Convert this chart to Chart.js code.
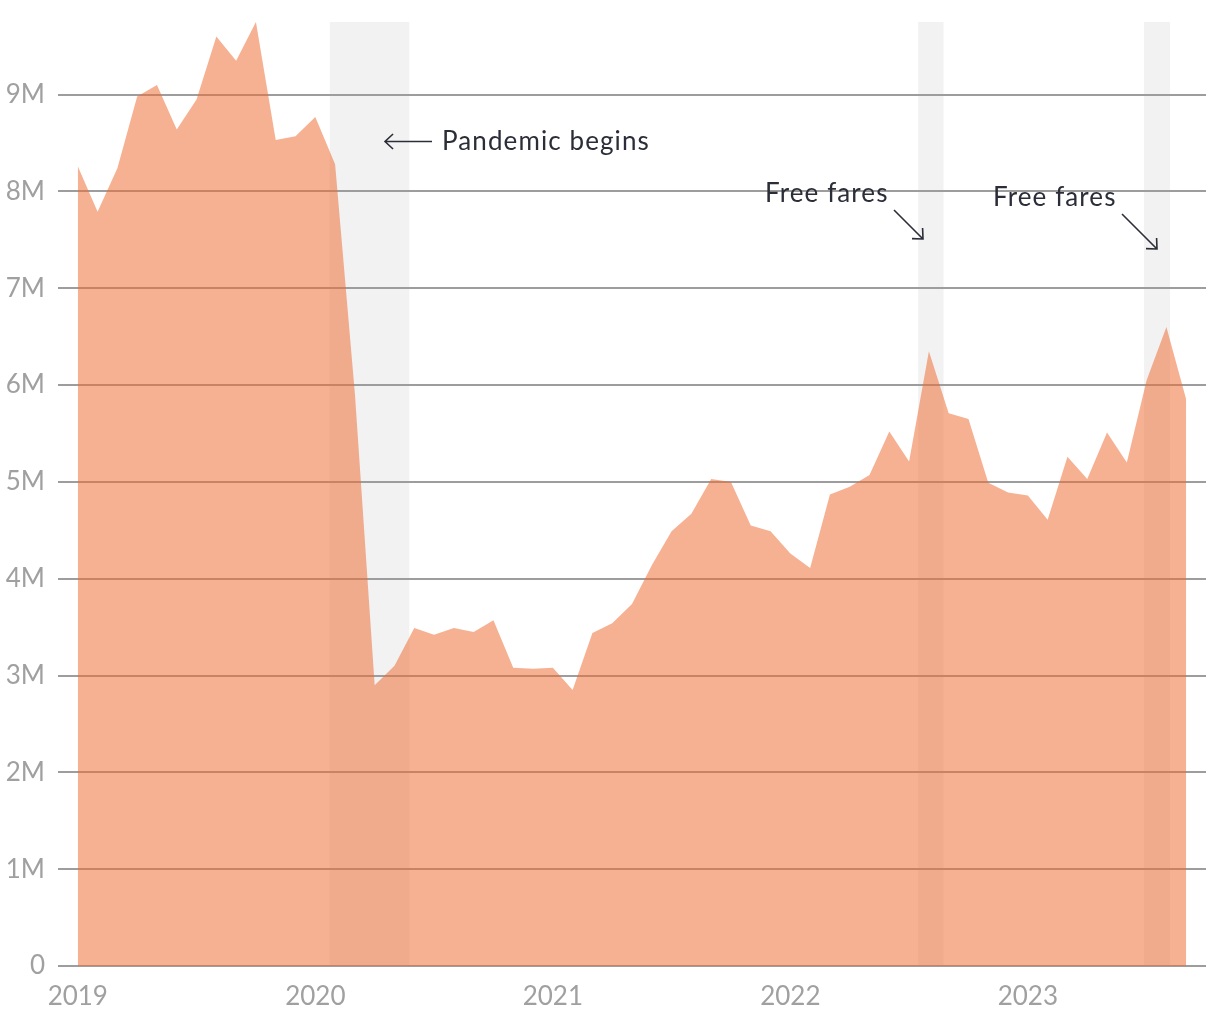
<!DOCTYPE html>
<html>
<head>
<meta charset="utf-8">
<script src="https://cdn.jsdelivr.net/npm/chart.js@4/dist/chart.umd.min.js"></script>
<style>
  html, body { margin: 0; padding: 0; background: #ffffff; }
  #wrap { width: 1220px; height: 1020px; position: relative; }
</style>
</head>
<body>
<div id="wrap"><canvas id="c" width="1220" height="1020"></canvas></div>
<script>
// Monthly ridership, Jan 2019 – Sep 2023 (millions)
const months = [
  'Jan 2019','Feb 2019','Mar 2019','Apr 2019','May 2019','Jun 2019','Jul 2019','Aug 2019','Sep 2019','Oct 2019','Nov 2019','Dec 2019',
  'Jan 2020','Feb 2020','Mar 2020','Apr 2020','May 2020','Jun 2020','Jul 2020','Aug 2020','Sep 2020','Oct 2020','Nov 2020','Dec 2020',
  'Jan 2021','Feb 2021','Mar 2021','Apr 2021','May 2021','Jun 2021','Jul 2021','Aug 2021','Sep 2021','Oct 2021','Nov 2021','Dec 2021',
  'Jan 2022','Feb 2022','Mar 2022','Apr 2022','May 2022','Jun 2022','Jul 2022','Aug 2022','Sep 2022','Oct 2022','Nov 2022','Dec 2022',
  'Jan 2023','Feb 2023','Mar 2023','Apr 2023','May 2023','Jun 2023','Jul 2023','Aug 2023','Sep 2023'
];
const riders = [
  8.26, 7.79, 8.24, 8.98, 9.10, 8.64, 8.95, 9.60, 9.35, 9.75, 8.53, 8.57,
  8.77, 8.28, 5.91, 2.90, 3.10, 3.49, 3.42, 3.49, 3.45, 3.57, 3.08, 3.07,
  3.08, 2.85, 3.44, 3.54, 3.74, 4.14, 4.49, 4.67, 5.03, 5.00, 4.55, 4.49,
  4.26, 4.11, 4.87, 4.95, 5.07, 5.52, 5.21, 6.35, 5.71, 5.65, 4.99, 4.89,
  4.86, 4.61, 5.26, 5.03, 5.51, 5.20, 6.05, 6.60, 5.85
];
const yearLabels = ['2019', '2020', '2021', '2022', '2023'];
const yearStartIndex = [0, 12, 24, 36, 48];
const yTicks = [0, 1, 2, 3, 4, 5, 6, 7, 8, 9];
// shaded periods, in month-index units (start, end)
const bandStarts = [12.73, 42.46, 53.87];
const bandEnds   = [16.75, 43.74, 55.18];
const annotations = [
  { text: 'Pandemic begins', band: 0 },
  { text: 'Free fares', band: 1 },
  { text: 'Free fares', band: 2 }
];

const FONT = 'Lato, "Open Sans", sans-serif';
const points = riders.map((v, i) => ({ x: i, y: v }));

const bandPlugin = {
  id: 'bands',
  beforeDraw(chart) {
    const { ctx, chartArea, scales } = chart;
    ctx.save();
    ctx.fillStyle = '#f2f2f2';
    for (let i = 0; i < bandStarts.length; i++) {
      const x0 = scales.x.getPixelForValue(bandStarts[i]);
      const x1 = scales.x.getPixelForValue(bandEnds[i]);
      ctx.fillRect(x0, chartArea.top, x1 - x0, chartArea.bottom - chartArea.top);
    }
    ctx.restore();
  }
};

function arrow(ctx, x0, y0, x1, y1) {
  const ang = Math.atan2(y1 - y0, x1 - x0);
  const h = 11, spread = Math.PI / 4.2;
  ctx.beginPath();
  ctx.moveTo(x0, y0);
  ctx.lineTo(x1, y1);
  ctx.moveTo(x1 - h * Math.cos(ang - spread), y1 - h * Math.sin(ang - spread));
  ctx.lineTo(x1, y1);
  ctx.lineTo(x1 - h * Math.cos(ang + spread), y1 - h * Math.sin(ang + spread));
  ctx.stroke();
}

const annotationPlugin = {
  id: 'notes',
  afterDraw(chart) {
    const { ctx } = chart;
    ctx.save();
    ctx.fillStyle = '#2b2e38';
    ctx.strokeStyle = '#2b2e38';
    ctx.lineWidth = 1.6;
    ctx.font = '400 26px ' + FONT;
    if ('letterSpacing' in ctx) ctx.letterSpacing = '1.1px';
    ctx.textBaseline = 'alphabetic';
    ctx.textAlign = 'left';
    // Pandemic begins
    ctx.fillText(annotations[0].text, 442, 150);
    arrow(ctx, 432, 141.5, 385, 141.5);
    // Free fares 1
    ctx.fillText(annotations[1].text, 765, 202);
    arrow(ctx, 894, 210, 923, 239);
    // Free fares 2
    ctx.fillText(annotations[2].text, 993, 206);
    arrow(ctx, 1122, 214, 1157, 249);
    ctx.restore();
  }
};

new Chart(document.getElementById('c'), {
  type: 'line',
  data: {
    labels: months,
    datasets: [{
      data: points,
      fill: 'origin',
      backgroundColor: 'rgba(238,106,49,0.53)',
      borderWidth: 0,
      borderColor: 'rgba(0,0,0,0)',
      pointRadius: 0,
      tension: 0
    }]
  },
  options: {
    responsive: false,
    animation: false,
    events: [],
    layout: { padding: { top: 22, right: 14, left: 0, bottom: 0 } },
    plugins: { legend: { display: false }, tooltip: { enabled: false } },
    scales: {
      x: {
        type: 'linear',
        min: -1,
        max: riders.length,
        grid: { display: false, drawTicks: false },
        border: { display: false },
        afterBuildTicks(scale) {
          scale.ticks = yearStartIndex.map(v => ({ value: v }));
        },
        afterFit(scale) { scale.height = 54; },
        ticks: {
          autoSkip: false,
          maxRotation: 0,
          padding: 15,
          color: '#a0a0a0',
          font: { family: FONT, size: 26, weight: '400' },
          callback(v) {
            const k = yearStartIndex.indexOf(v);
            return k >= 0 ? yearLabels[k] : '';
          }
        }
      },
      y: {
        min: 0,
        max: Math.max(...riders),
        grid: { color: '#9d9d9d', lineWidth: 2, drawTicks: false },
        border: { display: false },
        afterBuildTicks(scale) {
          scale.ticks = yTicks.map(v => ({ value: v }));
        },
        afterFit(scale) {
          scale.width = 58;
          scale.paddingTop = 0;
          scale.paddingBottom = 0;
        },
        ticks: {
          padding: 13,
          color: '#a0a0a0',
          font: { family: FONT, size: 26, weight: '400' },
          callback(v) { return v === 0 ? '0' : v + 'M'; }
        }
      }
    }
  },
  plugins: [bandPlugin, annotationPlugin]
});
</script>
</body>
</html>
